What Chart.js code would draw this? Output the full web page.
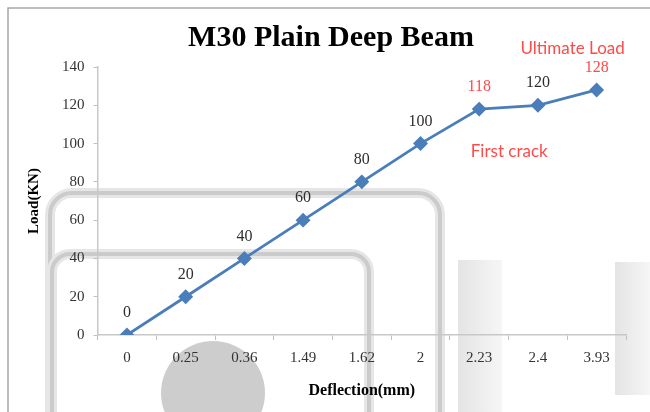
<!DOCTYPE html>
<html>
<head>
<meta charset="utf-8">
<script src="https://cdn.jsdelivr.net/npm/chart.js@4.4.0/dist/chart.umd.min.js"></script>
<style>
  html, body { margin: 0; padding: 0; background: #ffffff; }
  #wrap { width: 650px; height: 412px; }
</style>
</head>
<body>
<div id="wrap"><canvas id="c" width="650" height="412"></canvas></div>
<script>
// ---- data ----
const categories = ['0', '0.25', '0.36', '1.49', '1.62', '2', '2.23', '2.4', '3.93'];
const loads = [0, 20, 40, 60, 80, 100, 118, 120, 128];
const highlighted = [6, 8];           // indices whose value labels are red
const notes = ['First crack', 'Ultimate Load'];
const noteIndex = [6, 8];
const yMin = 0, yMax = 140, yStep = 20;
const chartTitle = 'M30 Plain Deep Beam';

const SERIF = '"Liberation Serif", "Times New Roman", serif';
const SANS = 'Lato, "Open Sans", sans-serif';
const RED = '#ff4a4a';
const LINE = '#4a7ebb';

// background decoration (scanned-image artefacts)
const decor = {
  id: 'decor',
  beforeDraw(chart) {
    const ctx = chart.ctx;
    ctx.save();
    ctx.fillStyle = '#fff';
    ctx.fillRect(0, 0, chart.width, chart.height);
    const strip = (x0, x1, y0, y1) => {
      const g = ctx.createLinearGradient(x0, 0, x1, 0);
      g.addColorStop(0, '#e4e4e4');
      g.addColorStop(1, '#f6f6f6');
      ctx.fillStyle = g;
      ctx.fillRect(x0, y0, x1 - x0, y1 - y0);
    };
    strip(458, 502, 260, 412);
    strip(615, 650, 262, 395);
    ctx.fillStyle = '#cdcdcd';
    ctx.beginPath();
    ctx.arc(213, 393, 52, 0, Math.PI * 2);
    ctx.fill();
    const band = (l, t, r, rad) => {
      ctx.beginPath();
      ctx.moveTo(l, 412);
      ctx.lineTo(l, t + rad);
      ctx.arcTo(l, t, l + rad, t, rad);
      ctx.lineTo(r - rad, t);
      ctx.arcTo(r, t, r, t + rad, rad);
      ctx.lineTo(r, 412);
      ctx.lineWidth = 10;
      ctx.strokeStyle = '#e6e6e6';
      ctx.stroke();
      ctx.lineWidth = 4;
      ctx.strokeStyle = '#cbcbcb';
      ctx.stroke();
    };
    band(50, 193, 440, 22);
    band(52, 254, 369, 18);
    ctx.strokeStyle = '#a8a8a8';
    ctx.lineWidth = 1.5;
    ctx.beginPath();
    ctx.moveTo(8, 412);
    ctx.lineTo(8, 8);
    ctx.lineTo(650, 8);
    ctx.stroke();
    // title
    ctx.fillStyle = '#000';
    ctx.font = 'bold 30px ' + SERIF;
    ctx.textAlign = 'center';
    ctx.textBaseline = 'middle';
    ctx.fillText(chartTitle, 331, 38);
    ctx.restore();
  }
};

// value labels + notes
const labels = {
  id: 'labels',
  afterDatasetsDraw(chart) {
    const ctx = chart.ctx;
    const meta = chart.getDatasetMeta(0);
    ctx.save();
    ctx.textAlign = 'center';
    ctx.textBaseline = 'middle';
    ctx.font = '16px ' + SERIF;
    meta.data.forEach((pt, i) => {
      ctx.fillStyle = highlighted.includes(i) ? RED : '#2e2e2e';
      ctx.fillText(String(loads[i]), pt.x, pt.y - 22);
    });
    ctx.font = '17px ' + SANS;
    ctx.fillStyle = RED;
    const p1 = meta.data[noteIndex[0]];
    ctx.fillText(notes[0], p1.x + 30, p1.y + 42);
    const p2 = meta.data[noteIndex[1]];
    ctx.fillText(notes[1], p2.x - 24, p2.y - 41);
    ctx.restore();
  }
};

new Chart(document.getElementById('c'), {
  type: 'line',
  data: {
    labels: categories,
    datasets: [{
      data: loads,
      borderColor: LINE,
      backgroundColor: LINE,
      borderWidth: 2.8,
      pointStyle: 'rectRot',
      pointRadius: 5.5,
      pointHoverRadius: 5.5,
      tension: 0,
      fill: false
    }]
  },
  options: {
    responsive: false,
    animation: false,
    events: [],
    layout: { padding: { left: 8, right: 24, top: 67, bottom: 0 } },
    plugins: {
      legend: { display: false },
      tooltip: { enabled: false },
      title: { display: false }
    },
    scales: {
      x: {
        type: 'category',
        offset: true,
        grid: {
          offset: true,
          drawOnChartArea: false,
          drawTicks: true,
          tickLength: 5,
          color: '#bfbfbf'
        },
        border: { display: true, color: '#c8c8c8', width: 1.5 },
        ticks: {
          color: '#333333',
          font: { family: SERIF, size: 15 },
          padding: 9,
          maxRotation: 0,
          autoSkip: false
        },
        title: {
          display: true,
          text: 'Deflection(mm)',
          color: '#000000',
          font: { family: SERIF, size: 16, weight: 'bold' },
          padding: { top: 4, bottom: 12 }
        },
        afterFit(s) { s.height = 77; }
      },
      y: {
        min: yMin,
        max: yMax,
        grid: {
          drawOnChartArea: false,
          drawTicks: true,
          tickLength: 4,
          color: '#bfbfbf'
        },
        border: { display: true, color: '#c8c8c8', width: 1.5 },
        ticks: {
          stepSize: yStep,
          color: '#333333',
          font: { family: SERIF, size: 15 },
          padding: 9
        },
        title: {
          display: true,
          text: 'Load(KN)',
          color: '#000000',
          font: { family: SERIF, size: 15, weight: 'bold' },
          padding: { top: 17, bottom: 17 }
        },
        afterFit(s) { s.width = 89.6; }
      }
    }
  },
  plugins: [decor, labels]
});
</script>
</body>
</html>
